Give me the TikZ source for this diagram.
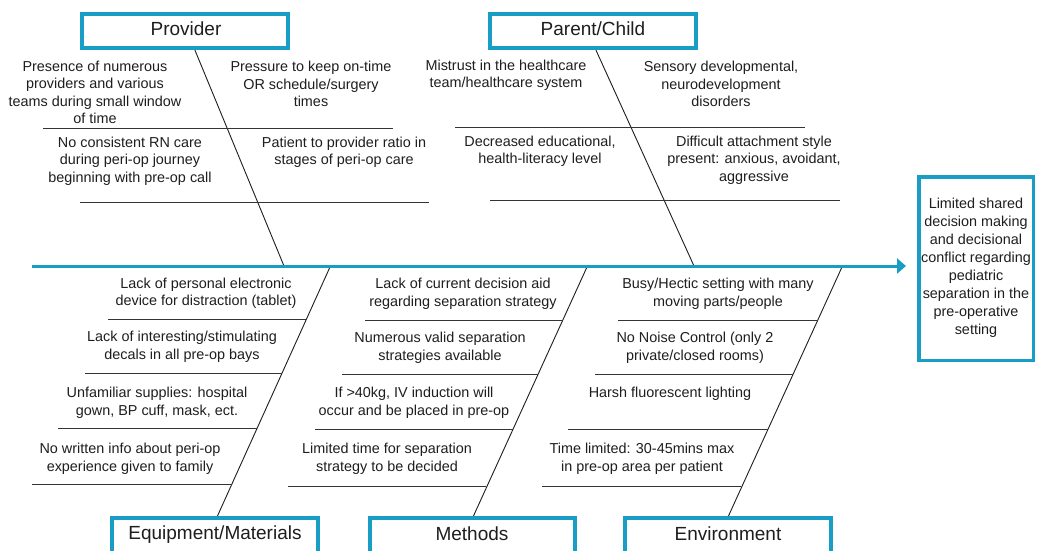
\documentclass[tikz,border=0pt]{standalone}
\usepackage{fontspec}
\setmainfont{Liberation Sans}
\usetikzlibrary{arrows.meta}
\definecolor{teal1}{RGB}{24,157,196}
\definecolor{ink}{RGB}{30,30,30}
\begin{document}
\begin{tikzpicture}[x=1pt,y=-1pt,
  catbox/.style={draw=teal1,line width=4pt,fill=white},
  cattext/.style={font=\fontsize{19}{22}\selectfont,text=ink,inner sep=0pt,anchor=base},
  cause/.style={font=\fontsize{14.4}{17.5}\selectfont,text=ink,align=center,inner sep=0pt},
  rib/.style={draw=ink!90,line width=1pt},
  bone/.style={draw=ink,line width=0.9pt},
  mainline/.style={draw=teal1,line width=3pt,-{Triangle[length=9pt,width=15pt]}}]
\useasboundingbox (0,0) rectangle (1037,550);
\clip (0,0) rectangle (1037,550);
\fill[white] (0,0) rectangle (1037,550);

% spine coordinates
\coordinate (ptop) at (192,43);
\coordinate (pbot) at (284,266);
\coordinate (ctop) at (595,48);
\coordinate (cbot) at (694,266);
\coordinate (etop) at (330,267);
\coordinate (ebot) at (217,517);
\coordinate (mtop) at (587,267);
\coordinate (mbot) at (473,517);
\coordinate (vtop) at (842,267);
\coordinate (vbot) at (728,517);
\coordinate (mainstart) at (32,266);

% bones
\draw[bone] (ptop) -- (pbot);
\draw[bone] (ctop) -- (cbot);
\draw[bone] (etop) -- (ebot);
\draw[bone] (mtop) -- (mbot);
\draw[bone] (vtop) -- (vbot);

% ribs top
\draw[rib] (43,128) -- (393,128);
\draw[rib] (80,202) -- (429,202);
\draw[rib] (455,127) -- (805,127);
\draw[rib] (490,200) -- (840,200);
% ribs bottom: equipment
\draw[rib] (108,319) -- (306.3,319);
\draw[rib] (85,373) -- (281.7,373);
\draw[rib] (58,428) -- (256.6,428);
\draw[rib] (32,484) -- (231,484);
% methods
\draw[rib] (365,320) -- (562.6,320);
\draw[rib] (342,374) -- (537.8,374);
\draw[rib] (315,429) -- (512.5,429);
\draw[rib] (288,486) -- (486.3,486);
% environment
\draw[rib] (618,320) -- (817.6,320);
\draw[rib] (595,374) -- (792.8,374);
\draw[rib] (568,429) -- (767.5,429);
\draw[rib] (542,486) -- (741.3,486);

% category boxes
\draw[catbox] (82,14) rectangle (288,48);
\node[cattext] (prov) at (186,35) {Provider};
\draw[catbox] (490,14) rectangle (696,48);
\node[cattext] (pc) at (593,35) {Parent/Child};
\draw[catbox] (112,518) rectangle (318,570);
\node[cattext] (equip) at (215,539) {Equipment/Materials};
\draw[catbox] (370,518) rectangle (575,570);
\node[cattext] (meth) at (472,540) {Methods};
\draw[catbox] (625,518) rectangle (831,570);
\node[cattext] (env) at (728,540) {Environment};

% main line and effect box
\draw[draw=teal1,line width=3.5pt] (918.75,176.75) rectangle (1033.25,360.25);
\node[cause,font=\fontsize{14.4}{18}\selectfont] (effect) at (976,268) {Limited shared\\decision making\\and decisional\\conflict regarding\\pediatric\\separation in the\\pre-operative\\setting};
\coordinate (arrowtip) at (906,266);
\draw[mainline] (mainstart) -- (arrowtip);

% provider causes
\node[cause] (p1) at (95,92.5) {Presence of numerous\\providers and various\\teams during small window\\of time};
\node[cause] (p2) at (311,84) {Pressure to keep on-time\\OR schedule/surgery\\times};
\node[cause] (p3) at (130,161) {No consistent RN care\\during peri-op journey\\beginning with pre-op call};
\node[cause] (p4) at (344,152.5) {Patient to provider ratio in\\stages of peri-op care};
% parent/child causes
\node[cause] (c1) at (506,75.5) {Mistrust in the healthcare\\team/healthcare system};
\node[cause] (c2) at (721,84) {Sensory developmental,\\neurodevelopment\\disorders};
\node[cause] (c3) at (540,151.5) {Decreased educational,\\health-literacy level};
\node[cause] (c4) at (754,160) {Difficult attachment style\\present: anxious, avoidant,\\aggressive};
% equipment causes
\node[cause] (e1) at (206,293.5) {Lack of personal electronic\\device for distraction (tablet)};
\node[cause] (e2) at (182,347) {Lack of interesting/stimulating\\decals in all pre-op bays};
\node[cause] (e3) at (157,403) {Unfamiliar supplies: hospital\\gown, BP cuff, mask, ect.};
\node[cause] (e4) at (130,459) {No written info about peri-op\\experience given to family};
% methods causes
\node[cause] (m1) at (463,294) {Lack of current decision aid\\regarding separation strategy};
\node[cause] (m2) at (440,348) {Numerous valid separation\\strategies available};
\node[cause] (m3) at (414,403) {If >40kg, IV induction will\\occur and be placed in pre-op};
\node[cause] (m4) at (387,459) {Limited time for separation\\strategy to be decided};
% environment causes
\node[cause] (v1) at (718,294) {Busy/Hectic setting with many\\moving parts/people};
\node[cause] (v2) at (695,348) {No Noise Control (only 2\\private/closed rooms)};
\node[cause] (v3) at (670,394) {Harsh fluorescent lighting};
\node[cause] (v4) at (642,459) {Time limited: 30-45mins max\\in pre-op area per patient};
\end{tikzpicture}
\end{document}
